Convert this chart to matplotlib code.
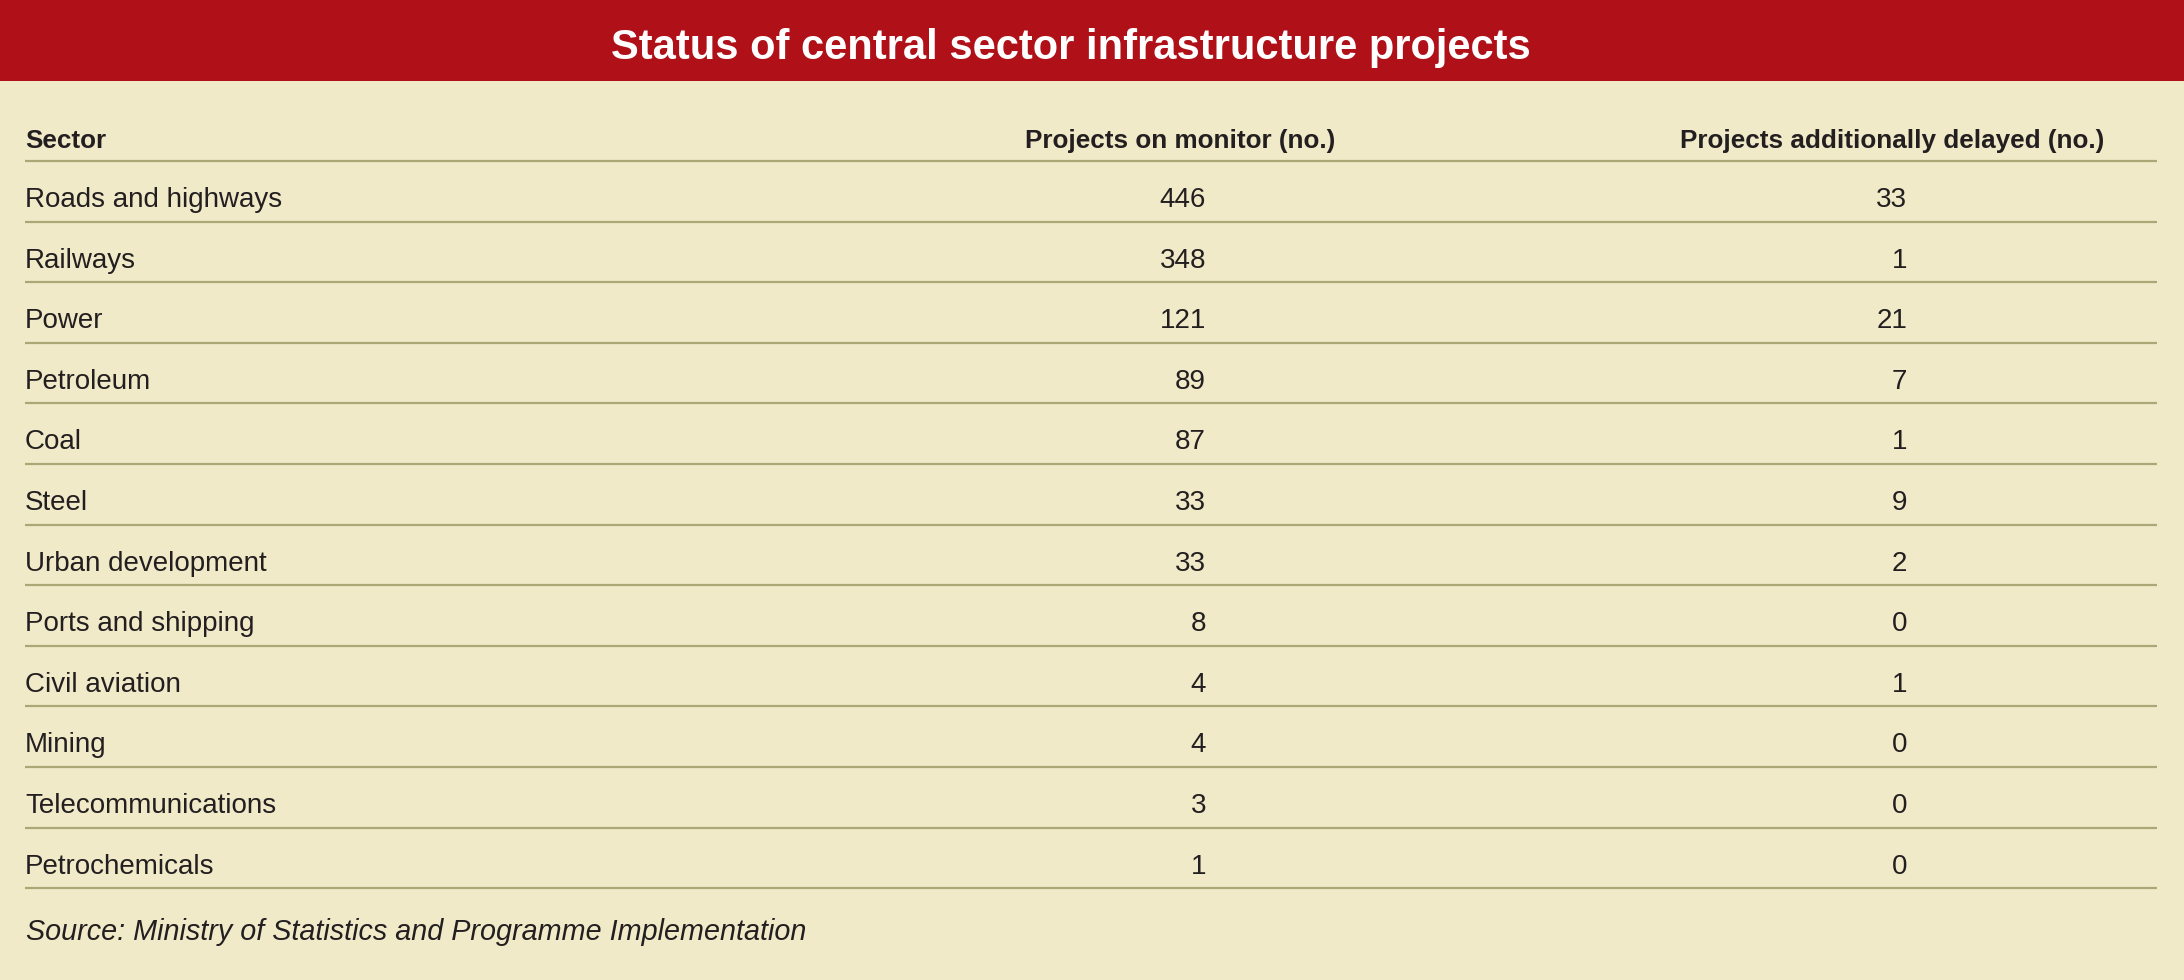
import matplotlib
matplotlib.use('Agg')
import matplotlib.pyplot as plt
from matplotlib import font_manager

# Table contents
title = 'Status of central sector infrastructure projects'
col_headers = ['Sector', 'Projects on monitor (no.)', 'Projects additionally delayed (no.)']
sectors = ['Roads and highways', 'Railways', 'Power', 'Petroleum', 'Coal', 'Steel',
           'Urban development', 'Ports and shipping', 'Civil aviation', 'Mining',
           'Telecommunications', 'Petrochemicals']
on_monitor = [446, 348, 121, 89, 87, 33, 33, 8, 4, 4, 3, 1]
delayed = [33, 1, 21, 7, 1, 9, 2, 0, 1, 0, 0, 0]
source = 'Source: Ministry of Statistics and Programme Implementation'

# Colours
red = '#B01018'
cream = '#F0EAC8'
rule = '#ADA677'
ink = '#231F20'

names = {f.name for f in font_manager.fontManager.ttflist}
narrow = 'Liberation Sans Narrow' if 'Liberation Sans Narrow' in names else 'Liberation Sans'
fam = [narrow, 'DejaVu Sans']

W, H = 2184, 980
fig = plt.figure(figsize=(W / 100, H / 100), dpi=100, facecolor=cream)
ax = fig.add_axes([0, 0, 1, 1])
ax.set_xlim(0, W)
ax.set_ylim(H, 0)
ax.axis('off')

# Title band
ax.add_patch(plt.Rectangle((0, 0), W, 81, color=red, lw=0))
ax.text(1071, 59, title, ha='center', va='baseline', color='white',
        fontsize=30, fontweight='bold', family=fam)

x_left = 25
x_right = 2157
col1_x = 1206
col2_x = 1907
hdr_x = [25, 1025, 1680]
line0 = 161
step = 60.6

# Header row
for hx, h in zip(hdr_x, col_headers):
    ax.text(hx, 148, h, ha='left', va='baseline', color=ink, fontsize=18.8,
            fontweight='bold', family=fam)
ax.plot([x_left, x_right], [line0, line0], color=rule, lw=1.6, solid_capstyle='butt')

# Data rows
for i, (s, a, b) in enumerate(zip(sectors, on_monitor, delayed)):
    yb = line0 + step * i + 46
    ax.text(x_left, yb, s, ha='left', va='baseline', color=ink, fontsize=20,
            family=fam)
    ax.text(col1_x, yb, str(a), ha='right', va='baseline', color=ink, fontsize=20,
            family=fam)
    ax.text(col2_x, yb, str(b), ha='right', va='baseline', color=ink, fontsize=20,
            family=fam)
    yl = line0 + step * (i + 1)
    ax.plot([x_left, x_right], [yl, yl], color=rule, lw=1.6, solid_capstyle='butt')

ax.text(x_left + 1, 940, source, ha='left', va='baseline', color=ink, fontsize=20.7,
        style='italic', family=fam)

fig.savefig('out.png', dpi=100, facecolor=cream)
